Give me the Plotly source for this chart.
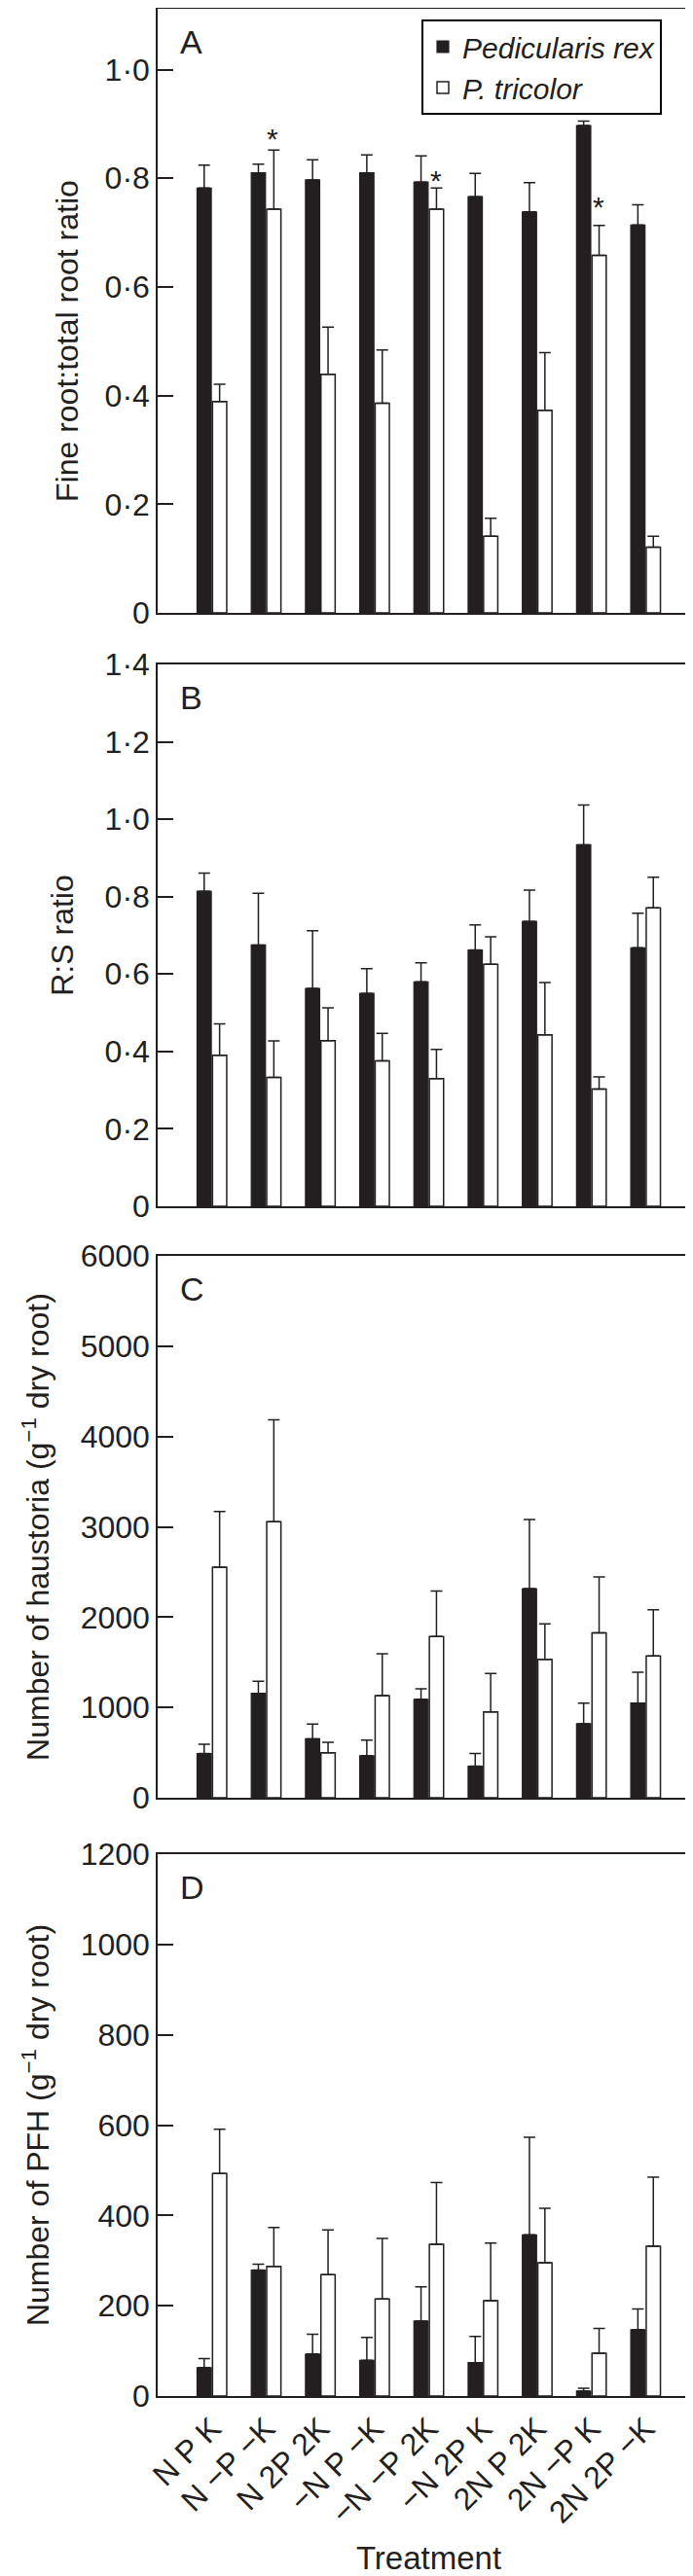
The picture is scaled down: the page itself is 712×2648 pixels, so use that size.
import plotly.graph_objects as go
from plotly.subplots import make_subplots

treatments = ["N P K", "N −P −K", "N 2P 2K", "−N P −K", "−N −P 2K",
              "−N 2P K", "2N P 2K", "2N −P K", "2N 2P −K"]

# Panel A: fine root : total root ratio
a_rex = [0.782, 0.810, 0.797, 0.810, 0.793, 0.766, 0.738, 0.897, 0.714]
a_rex_se = [0.042, 0.016, 0.037, 0.033, 0.048, 0.043, 0.054, 0.008, 0.037]
a_tri = [0.389, 0.743, 0.439, 0.386, 0.743, 0.141, 0.373, 0.658, 0.121]
a_tri_se = [0.032, 0.109, 0.087, 0.098, 0.039, 0.033, 0.106, 0.055, 0.020]
a_star_idx = [1, 4, 7]
a_star_y = [0.883, 0.806, 0.759]

# Panel B: R:S ratio
b_rex = [0.814, 0.675, 0.563, 0.550, 0.580, 0.662, 0.736, 0.934, 0.668]
b_rex_se = [0.047, 0.134, 0.149, 0.064, 0.049, 0.065, 0.081, 0.103, 0.089]
b_tri = [0.390, 0.333, 0.428, 0.376, 0.330, 0.625, 0.443, 0.303, 0.771]
b_tri_se = [0.081, 0.094, 0.085, 0.071, 0.075, 0.071, 0.135, 0.031, 0.079]

# Panel C: number of haustoria
c_rex = [489, 1156, 652, 466, 1090, 349, 2316, 820, 1048]
c_rex_se = [103, 135, 163, 172, 117, 140, 764, 228, 341]
c_tri = [2554, 3057, 499, 1132, 1785, 951, 1533, 1827, 1570]
c_tri_se = [615, 1127, 116, 462, 503, 424, 392, 619, 513]

# Panel D: number of PFH
d_rex = [63, 279, 93, 79, 166, 74, 357, 11, 147]
d_rex_se = [20, 13, 44, 51, 76, 58, 216, 6, 46]
d_tri = [493, 287, 269, 215, 336, 211, 295, 95, 332]
d_tri_se = [98, 86, 99, 134, 137, 128, 121, 55, 153]

panels = [
    ("A", a_rex, a_rex_se, a_tri, a_tri_se, "Fine root:total root ratio",
     [0, 1.112], [0, 0.2, 0.4, 0.6, 0.8, 1.0], ["0", "0·2", "0·4", "0·6", "0·8", "1·0"]),
    ("B", b_rex, b_rex_se, b_tri, b_tri_se, "R:S ratio",
     [0, 1.4], [0, 0.2, 0.4, 0.6, 0.8, 1.0, 1.2, 1.4],
     ["0", "0·2", "0·4", "0·6", "0·8", "1·0", "1·2", "1·4"]),
    ("C", c_rex, c_rex_se, c_tri, c_tri_se, "Number of haustoria (g<sup>−1</sup> dry root)",
     [0, 6000], [0, 1000, 2000, 3000, 4000, 5000, 6000],
     ["0", "1000", "2000", "3000", "4000", "5000", "6000"]),
    ("D", d_rex, d_rex_se, d_tri, d_tri_se, "Number of PFH (g<sup>−1</sup> dry root)",
     [0, 1200], [0, 200, 400, 600, 800, 1000, 1200],
     ["0", "200", "400", "600", "800", "1000", "1200"]),
]

W, H = 712, 2648
ML, MR, MT, MB = 154, 1, 1, 193
panel_px = [(1, 622), (675, 1232), (1283, 1840), (1898, 2455)]
plot_h = H - MT - MB
plot_w = W - ML - MR


def paper_y(px):
    return (H - MB - px) / plot_h


def paper_x(px):
    return (px - ML) / plot_w


FONT = "Liberation Sans, Arial, Helvetica, sans-serif"
INK = "#231f20"

fig = make_subplots(rows=4, cols=1)

for i, (letter, rex, rex_se, tri, tri_se, ytitle, yr, tv, tt) in enumerate(panels):
    r = i + 1
    fig.add_trace(go.Bar(
        x=treatments, y=rex, name="Pedicularis rex",
        marker=dict(color=INK, line=dict(color=INK, width=1.2)),
        error_y=dict(type="data", array=rex_se, arrayminus=[0] * len(rex_se),
                     symmetric=False, color=INK, thickness=1.5, width=6),
        showlegend=(i == 0), legendgroup="rex", cliponaxis=True,
    ), row=r, col=1)
    fig.add_trace(go.Bar(
        x=treatments, y=tri, name="P. tricolor",
        marker=dict(color="white", line=dict(color=INK, width=1.5)),
        error_y=dict(type="data", array=tri_se, arrayminus=[0] * len(tri_se),
                     symmetric=False, color=INK, thickness=1.5, width=6),
        showlegend=(i == 0), legendgroup="tri", cliponaxis=True,
    ), row=r, col=1)

    top, bot = panel_px[i]
    sfx = "" if r == 1 else str(r)
    yaxis_title = dict(text=ytitle, font=dict(family=FONT, size=32, color=INK), standoff=22)
    if r == 1:
        # panel A's title sits lower than the axis centre in the reference
        yaxis_title = None
        fig.add_annotation(
            text=ytitle, xref="paper", yref="paper",
            x=paper_x(61), y=paper_y(343), textangle=-90,
            xanchor="center", yanchor="middle", showarrow=False,
            font=dict(family=FONT, size=32, color=INK),
        )
    fig.layout["yaxis" + sfx].update(
        domain=[paper_y(bot), paper_y(top)], range=yr, autorange=False,
        tickvals=tv, ticktext=tt, ticks="inside", ticklen=16, tickwidth=1.5,
        tickcolor=INK, showline=True, linecolor=INK, linewidth=1.5, mirror=True,
        showgrid=False, zeroline=False,
        tickfont=dict(family=FONT, size=32, color=INK),
    )
    if yaxis_title is not None:
        fig.layout["yaxis" + sfx].title = yaxis_title
    fig.layout["xaxis" + sfx].update(
        range=[-1, 9], showline=True, linecolor=INK, linewidth=1.5, mirror=True,
        showgrid=False, zeroline=False, ticks="",
        showticklabels=(r == 4), tickangle=-45,
        tickfont=dict(family=FONT, size=32, color=INK),
        categoryorder="array", categoryarray=treatments,
    )
    h_px = bot - top
    fig.add_annotation(
        text=letter, xref=f"x{sfx} domain", yref=f"y{sfx} domain",
        x=paper_x(175), y=1 - 34 / h_px,
        xanchor="left", yanchor="middle", showarrow=False,
        font=dict(family=FONT, size=34, color=INK),
    )

fig.layout.xaxis4.title = dict(text="Treatment", font=dict(family=FONT, size=33, color=INK),
                               standoff=18)

for k, yv in zip(a_star_idx, a_star_y):
    fig.add_annotation(
        text="*", x=treatments[k], y=yv, xref="x", yref="y",
        xshift=7, yshift=-6, showarrow=False, xanchor="center", yanchor="middle",
        font=dict(family=FONT, size=30, color=INK),
    )

fig.update_layout(
    width=W, height=H,
    margin=dict(l=ML, r=MR, t=MT, b=MB, autoexpand=False),
    paper_bgcolor="white", plot_bgcolor="white",
    barmode="group", bargap=0.43, bargroupgap=0.08,
    showlegend=True,
    legend=dict(
        x=paper_x(425), y=paper_y(12), xanchor="left", yanchor="top",
        xref="paper", yref="paper",
        bgcolor="white", bordercolor="#000000", borderwidth=2,
        font=dict(family=FONT, size=30, color=INK, style="italic"),
        traceorder="normal", tracegroupgap=0,
    ),
    font=dict(family=FONT, color=INK),
)

fig.write_html("out.html")
